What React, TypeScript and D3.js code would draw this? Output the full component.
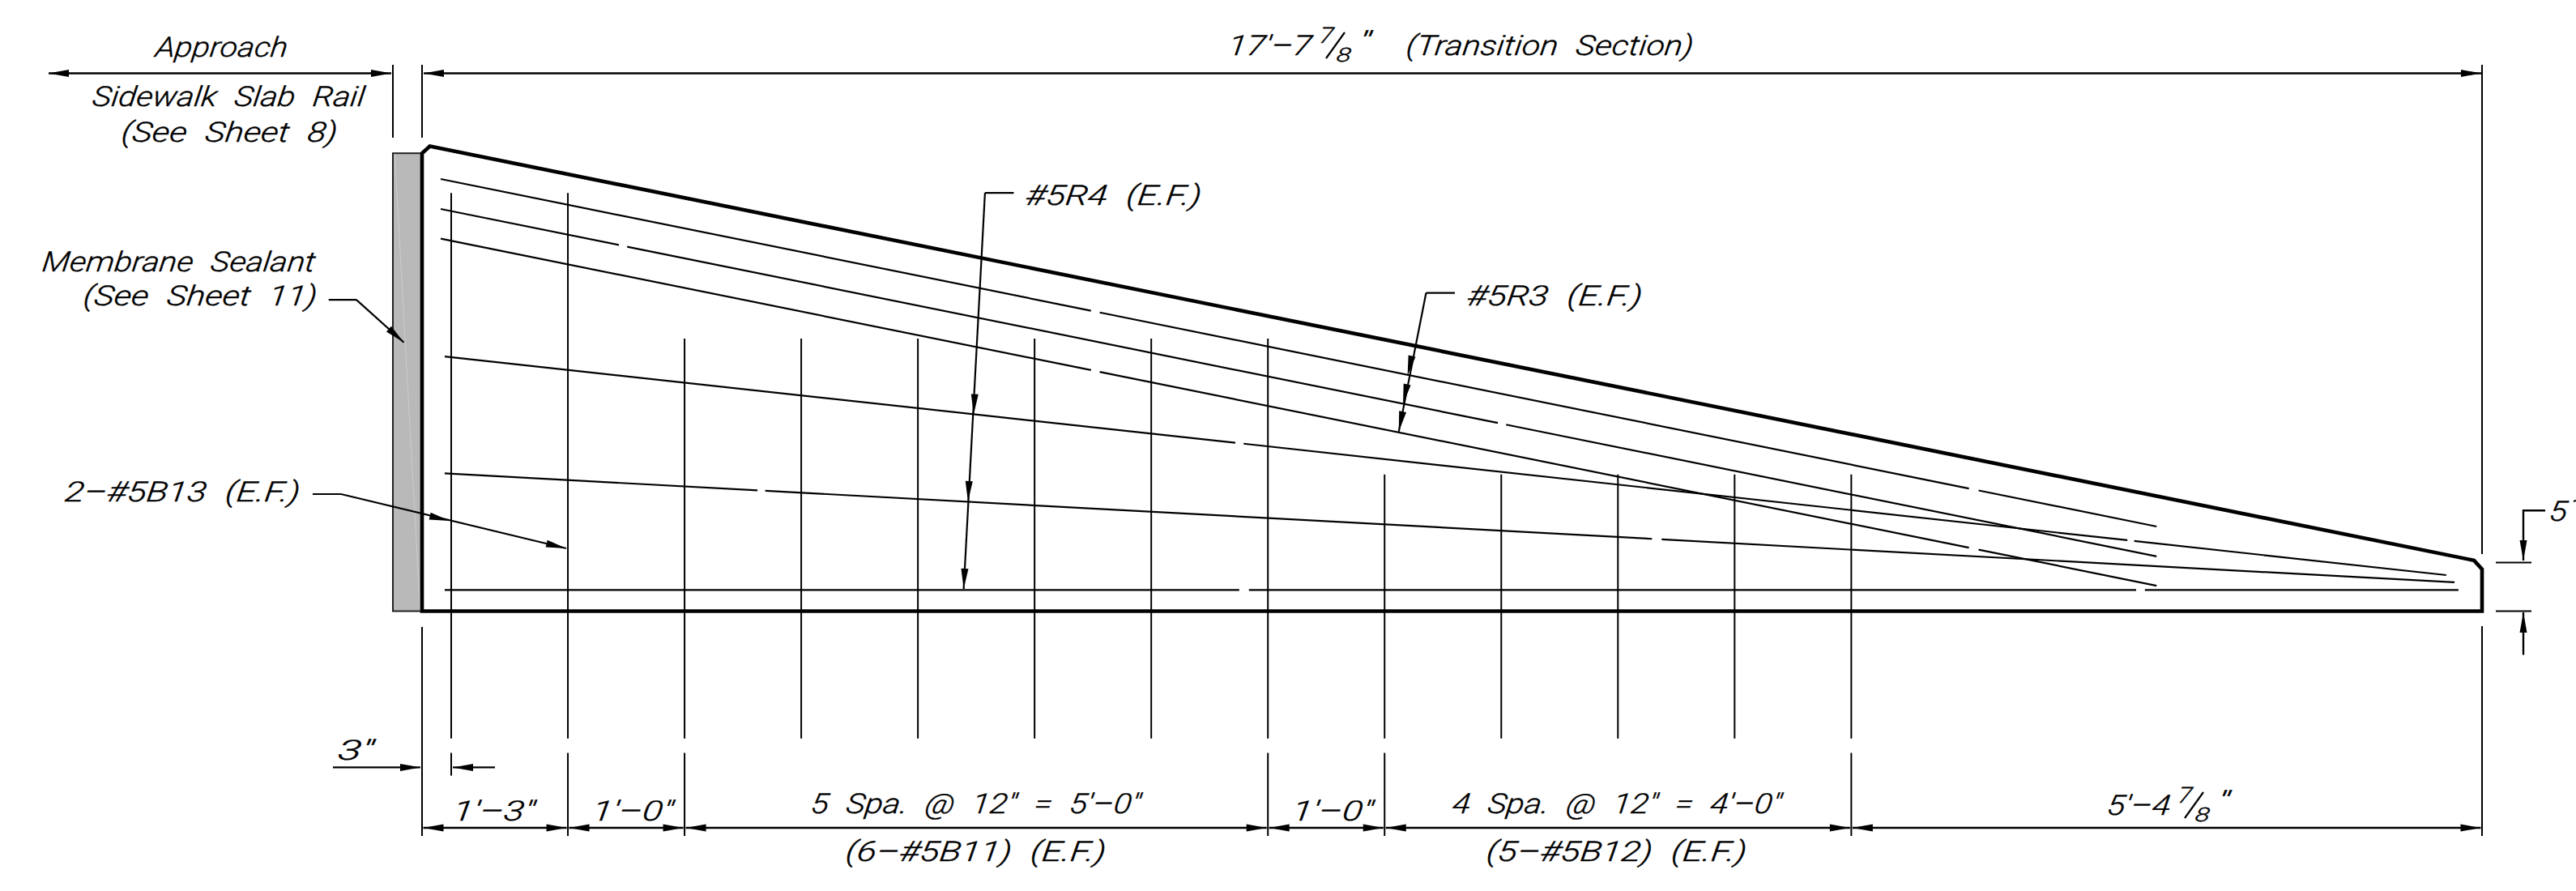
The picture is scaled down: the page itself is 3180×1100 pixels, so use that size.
import React from "react";
import * as d3 from "d3";

// All drawing data is in inches, measured from the slab's bottom-left corner.
const spanInches = 211.875;
const slabOutline: [number, number][] = [[0, 47.1], [0.8, 47.82], [211.05, 5.22], [211.875, 4.32], [211.875, 0], [0, 0]];
const sealant = { x0: -3, x1: 0, y0: 0, y1: 47.1 };

const barsTall = [3, 15];
const barsB11 = [27, 39, 51, 63, 75, 87];
const barsB12 = [99, 111, 123, 135, 147];
const tallTop = 43.02;
const b11Top = 28.03;
const b12Top = 14.07;
const barBottom = -13.1;

const rebarNames = ["R1", "R2", "R3", "S1", "S2", "S3"];
const rebarStart: [number, number][] = [[1.92, 44.45], [1.92, 41.37], [1.92, 38.32], [2.33, 26.2], [2.33, 14.17], [2.33, 2.17]];
const rebarEnd: [number, number][] = [[178.4, 8.71], [178.4, 5.64], [178.4, 2.62], [208.2, 3.71], [209.05, 2.96], [209.45, 2.17]];
const rebarGaps: [number, number][][] = [
  [[68.8, 69.7], [159.1, 160.1]],
  [[20.25, 21.1], [110.65, 111.5]],
  [[68.8, 69.7], [159.1, 160.1]],
  [[83.65, 84.5], [175.4, 176.1]],
  [[34.5, 35.3], [126.5, 127.5]],
  [[84.05, 85.05], [176.3, 177.2]],
];

const chainStops = [0, 15, 27, 87, 99, 147, spanInches];
const chainY = -22.29;
const topDimY = 55.32;

type Leader = { path: [number, number][]; tips: [number, number][] };
const leaders: Leader[] = [
  { path: [[-9.6, 32.03], [-6.75, 32.03]], tips: [[-1.87, 27.64]] },
  { path: [[-11.25, 12.04], [-8.33, 12.04]], tips: [[2.83, 9.29], [14.83, 6.46]] },
  { path: [[60.86, 43.03], [57.9, 43.03]], tips: [[56.74, 20.24], [56.15, 11.29], [55.71, 2.29]] },
  { path: [[106.23, 32.74], [103.27, 32.74]], tips: [[101.36, 24.22], [100.9, 21.29], [100.46, 18.48]] },
];

type Label = { t: string; x0: number; x1: number; y: number; ws?: number };
const labels: Label[] = [
  { t: "Approach", x0: 191, x1: 354, y: 70 },
  { t: "Sidewalk Slab Rail", x0: 113, x1: 449, y: 130.5, ws: 10 },
  { t: "(See Sheet 8)", x0: 149, x1: 415, y: 174.7, ws: 10 },
  { t: "Membrane Sealant", x0: 51, x1: 388, y: 335, ws: 10 },
  { t: "(See Sheet 11)", x0: 102, x1: 390, y: 377, ws: 10 },
  { t: "2–#5B13 (E.F.)", x0: 79, x1: 369, y: 619.4, ws: 10 },
  { t: "3\"", x0: 416, x1: 460, y: 937.6 },
  { t: "1'–3\"", x0: 558, x1: 659, y: 1012.5 },
  { t: "1'–0\"", x0: 730, x1: 830, y: 1012.5 },
  { t: "5 Spa. @ 12\" = 5'–0\"", x0: 1000, x1: 1407, y: 1004, ws: 10 },
  { t: "(6–#5B11) (E.F.)", x0: 1043, x1: 1364, y: 1062.7, ws: 10 },
  { t: "1'–0\"", x0: 1594, x1: 1694, y: 1012.5 },
  { t: "4 Spa. @ 12\" = 4'–0\"", x0: 1792, x1: 2198, y: 1004, ws: 10 },
  { t: "(5–#5B12) (E.F.)", x0: 1834, x1: 2155, y: 1062.7, ws: 10 },
  { t: "#5R4 (E.F.)", x0: 1265, x1: 1482, y: 252.6, ws: 10 },
  { t: "#5R3 (E.F.)", x0: 1810, x1: 2026, y: 376.7, ws: 10 },
  { t: "(Transition Section)", x0: 1735, x1: 2089, y: 68, ws: 10 },
  { t: "5", x0: 3146, x1: 3168, y: 643 },
];
const fractionLabels = [
  { whole: "17'–7", x0: 1515, x1: 1618, y: 68 },
  { whole: "5'–4", x0: 2600, x1: 2678, y: 1006 },
];

const X = d3.scaleLinear().domain([0, spanInches]).range([521, 3064]);
const Y = d3.scaleLinear().domain([0, 48]).range([754.5, 754.5 - 48 * 12.0024]);
const pt = ([a, b]: [number, number]): [number, number] => [X(a), Y(b)];
const lineGen = d3.line();

const FONT = "Roboto, 'Liberation Sans', sans-serif";

function Arrow({ tip, from }: { tip: [number, number]; from: [number, number] }) {
  const dx = from[0] - tip[0], dy = from[1] - tip[1];
  const len = Math.hypot(dx, dy) || 1;
  const ux = dx / len, uy = dy / len;
  const L = 25, H = 4.5;
  const p: [number, number][] = [
    tip,
    [tip[0] + ux * L - uy * H, tip[1] + uy * L + ux * H],
    [tip[0] + ux * L + uy * H, tip[1] + uy * L - ux * H],
  ];
  return <polygon points={p.map((q) => q.join(",")).join(" ")} fill="#000" />;
}

function Seg({ a, b, w = 2 }: { a: [number, number]; b: [number, number]; w?: number }) {
  return <line x1={a[0]} y1={a[1]} x2={b[0]} y2={b[1]} stroke="#000" strokeWidth={w} />;
}

function DimSpan({ a, b, y }: { a: number; b: number; y: number }) {
  return (
    <g>
      <Seg a={[a, y]} b={[b, y]} w={2.6} />
      <Arrow tip={[a, y]} from={[b, y]} />
      <Arrow tip={[b, y]} from={[a, y]} />
    </g>
  );
}

function Txt({ t, x0, x1, y, ws, size = 34.5 }: Label & { size?: number }) {
  return (
    <text
      transform={`translate(${x0},${y}) skewX(-7)`}
      textLength={x1 - x0}
      lengthAdjust="spacingAndGlyphs"
      fontFamily={FONT}
      fontWeight={300}
      fontStyle="italic"
      fontSize={size}
      fill="#000"
      stroke="#000"
      strokeWidth={0.4}
      style={{ wordSpacing: ws ? `${ws}px` : undefined }}
    >
      {t}
    </text>
  );
}

function Fraction({ whole, x0, x1, y }: { whole: string; x0: number; x1: number; y: number }) {
  return (
    <g>
      <Txt t={whole} x0={x0} x1={x1} y={y} />
      <Txt t="7" x0={x1 + 10} x1={x1 + 27} y={y - 15} size={27} />
      <Seg a={[x1 + 19, y + 4]} b={[x1 + 42, y - 28]} w={2.2} />
      <Txt t="8" x0={x1 + 31} x1={x1 + 49} y={y + 8} size={24} />
      <Txt t={'"'} x0={x1 + 58} x1={x1 + 73} y={y - 5} size={34.5} />
    </g>
  );
}

export default function App() {
  const chain = chainStops.slice(1).map((s, i) => [X(chainStops[i]), X(s)]);
  const extBottom = 1032;
  const right = X(spanInches);
  const left = X(0);
  return (
    <svg
      width={3180}
      height={1100}
      viewBox="0 0 3180 1100"
      style={{ position: "absolute", left: 0, top: 0, display: "block", background: "#fff" }}
    >
      {/* Sealant */}
      <rect
        x={X(sealant.x0)}
        y={Y(sealant.y1)}
        width={X(sealant.x1) - X(sealant.x0)}
        height={Y(sealant.y0) - Y(sealant.y1)}
        fill="#b9b9b9"
        stroke="#222"
        strokeWidth={2}
      />
      <line x1={X(-2.8)} y1={Y(47)} x2={X(-0.2)} y2={Y(0.1)} stroke="#cdcdcd" strokeWidth={1} />

      {/* Bars */}
      {barsTall.map((b) => <Seg key={b} a={[X(b), Y(tallTop)]} b={[X(b), Y(barBottom)]} />)}
      {barsB11.map((b) => <Seg key={b} a={[X(b), Y(b11Top)]} b={[X(b), Y(barBottom)]} />)}
      {barsB12.map((b) => <Seg key={b} a={[X(b), Y(b12Top)]} b={[X(b), Y(barBottom)]} />)}

      {/* Longitudinal rebars, split at their lap gaps */}
      {rebarNames.map((name, i) => {
        const [x0, y0] = rebarStart[i];
        const [x1, y1] = rebarEnd[i];
        const yAt = d3.scaleLinear().domain([x0, x1]).range([y0, y1]);
        const stops = [x0, ...rebarGaps[i].flat(), x1];
        const parts = d3.range(0, stops.length, 2).map((k) => [stops[k], stops[k + 1]]);
        return (
          <g key={name}>
            {parts.map(([a, b]) => (
              <Seg key={a} a={[X(a), Y(yAt(a))]} b={[X(b), Y(yAt(b))]} w={2.2} />
            ))}
          </g>
        );
      })}

      {/* Slab outline */}
      <path d={lineGen(slabOutline.map(pt)) + "Z"} fill="none" stroke="#000" strokeWidth={4.6} strokeLinejoin="miter" />

      {/* Top dimensions */}
      <Seg a={[X(sealant.x0), 80]} b={[X(sealant.x0), 170]} />
      <Seg a={[left, 80]} b={[left, 170]} />
      <Seg a={[right, 80]} b={[right, 684]} />
      <Seg a={[60, Y(topDimY)]} b={[483, Y(topDimY)]} w={2.6} />
      <Arrow tip={[60, Y(topDimY)]} from={[483, Y(topDimY)]} />
      <Arrow tip={[483, Y(topDimY)]} from={[60, Y(topDimY)]} />
      <DimSpan a={left + 2} b={right - 1} y={Y(topDimY)} />

      {/* Bottom dimension chain */}
      <Seg a={[left, 774]} b={[left, extBottom]} />
      <Seg a={[right, 773]} b={[right, extBottom]} />
      {chainStops.slice(1, -1).map((s) => <Seg key={s} a={[X(s), 929.5]} b={[X(s), extBottom]} />)}
      {chain.map(([a, b]) => <DimSpan key={a} a={a + 1.5} b={b - 1.5} y={Y(chainY)} />)}

      {/* 3" dimension */}
      <Seg a={[X(3), 929.5]} b={[X(3), 957.6]} />
      <Seg a={[411, 947.4]} b={[519, 947.4]} w={2.4} />
      <Arrow tip={[519, 947.4]} from={[411, 947.4]} />
      <Seg a={[559, 947.4]} b={[611, 947.4]} w={2.4} />
      <Arrow tip={[559, 947.4]} from={[611, 947.4]} />

      {/* End-height dimension */}
      <Seg a={[3081, Y(5)]} b={[3125, Y(5)]} />
      <Seg a={[3081, Y(0)]} b={[3125, Y(0)]} />
      <path d="M3142,630.3H3115V692" fill="none" stroke="#000" strokeWidth={2.4} />
      <Arrow tip={[3115, 692]} from={[3115, 630]} />
      <Seg a={[3115, 756]} b={[3115, 808.5]} w={2.4} />
      <Arrow tip={[3115, 756]} from={[3115, 808]} />
      <Seg a={[3177, 619]} b={[3180, 618]} w={2} />

      {/* Leaders */}
      {leaders.map((l, i) => {
        const pts = l.path.map(pt);
        const knee = pts[pts.length - 1];
        const tips = l.tips.map(pt);
        const last = tips[tips.length - 1];
        return (
          <g key={i}>
            <path d={lineGen(pts) ?? ""} fill="none" stroke="#000" strokeWidth={2.2} />
            <Seg a={knee} b={last} w={2.2} />
            {tips.map((t, j) => <Arrow key={j} tip={t} from={knee} />)}
          </g>
        );
      })}

      {/* Text */}
      {labels.map((l, i) => <Txt key={i} {...l} />)}
      {fractionLabels.map((f, i) => <Fraction key={i} {...f} />)}
    </svg>
  );
}
